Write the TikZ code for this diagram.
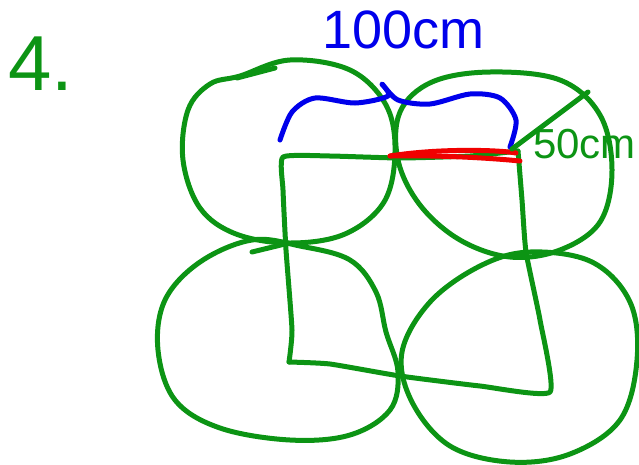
\documentclass[tikz,border=0pt]{standalone}
\usepackage{fontspec}
\setmainfont{Liberation Sans}
\usepackage{tikz}
\usetikzlibrary{calc, positioning}
\usepackage{xcolor}
\definecolor{penGreen}{RGB}{12, 148, 20}
\definecolor{penBlue}{RGB}{0, 0, 235}
\definecolor{penRed}{RGB}{240, 0, 0}

\begin{document}
\begin{tikzpicture}[
  x=1pt, y=-1pt,
  stroke/.style={line width=5pt, line cap=round, line join=round},
  ink/.style={inner sep=0pt, anchor=west}
]
  \useasboundingbox (0,0) rectangle (639,464);

  % Four circles (green)
  \draw[stroke, penGreen] plot[smooth cycle, tension=0.6] coordinates {
    (240,76) (290,60) (350,70) (386,105) (395,152) (384,202) (345,234)
    (290,243) (236,234) (200,208) (183,160) (188,110) (210,84)};
  \draw[stroke, penGreen] (237,78) -- (275,68);
  \draw[stroke, penGreen] plot[smooth cycle, tension=0.6] coordinates {
    (400,112) (432,82) (490,72) (560,80) (600,115) (612,170) (600,222)
    (560,250) (510,257) (460,240) (420,205) (398,160)};
  \draw[stroke, penGreen] plot[smooth cycle, tension=0.6] coordinates {
    (300,246) (350,260) (376,292) (386,332) (398,372) (390,410) (350,435)
    (290,440) (220,428) (175,400) (158,350) (165,300) (200,262) (252,240)};
  \draw[stroke, penGreen] (252,252) -- (285,244);
  \draw[stroke, penGreen] plot[smooth cycle, tension=0.6] coordinates {
    (402,352) (430,302) (480,266) (530,252) (592,262) (630,302) (637,360)
    (620,420) (570,454) (510,462) (450,446) (412,402)};

  % Square through the centres
  \coordinate (sqA) at (283,157);
  \coordinate (sqB) at (518,151);
  \coordinate (sqC) at (550,392);
  \coordinate (sqD) at (289,362);
  \draw[stroke, penGreen] plot[smooth, tension=0.3] coordinates {
    (sqD) (292,330) (286,250) (283,190) (sqA) (330,156) (400,158) (470,156) (sqB)};
  \draw[stroke, penGreen] plot[smooth, tension=0.3] coordinates {
    (sqB) (522,200) (526,252) (540,320) (sqC) (480,386) (400,376) (330,364) (sqD)};

  % Radius (red)
  \coordinate (rA) at (390,156);
  \coordinate (rB) at (520,161);
  \draw[stroke, penRed] (rA) .. controls (440,148) and (500,150) .. (516,153);
  \draw[stroke, penRed] (rA) .. controls (440,155) and (490,158) .. (rB);

  % Diameter brace (blue)
  \draw[stroke, penBlue] plot[smooth, tension=0.5] coordinates {
    (280,140) (292,112) (315,98) (355,103) (388,96) (382,84) (398,100)
    (430,104) (470,94) (500,98) (516,120) (510,147)};

  % Labels
  \node[ink, text=penBlue, font=\fontsize{54}{54}\selectfont] (lblDiam) at (322,30) {100cm};
  \node[ink, text=penGreen, font=\fontsize{42}{42}\selectfont] (lblRad) at (533,144) {50cm};
  \node[ink, text=penGreen, font=\fontsize{78}{78}\selectfont] (lblNum) at (8,64) {4.};
  \draw[stroke, penGreen] (rB) ++(-8,-12) coordinate (rTip) -- (588,92);
\end{tikzpicture}
\end{document}
